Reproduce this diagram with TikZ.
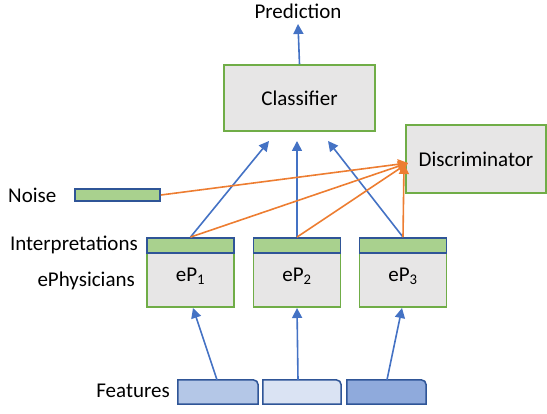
\documentclass[tikz,border=0pt]{standalone}
\usepackage{fontspec}
\setmainfont{Carlito}
\usetikzlibrary{arrows.meta}
\definecolor{oblue}{HTML}{4472C4}
\definecolor{oorange}{HTML}{ED7D31}
\definecolor{ogreen}{HTML}{70AD47}
\definecolor{ogray}{HTML}{E7E6E6}
\definecolor{obar}{HTML}{A9D18E}
\definecolor{odark}{HTML}{2F5597}
\definecolor{fa}{HTML}{B4C7E7}
\definecolor{fb}{HTML}{DAE3F3}
\definecolor{fc}{HTML}{8FAADC}
\tikzset{
  txt/.style={font=\fontsize{21}{25}\selectfont, inner sep=0pt},
  graybox/.style={draw=ogreen, fill=ogray, line width=1.5pt, inner sep=0pt, font=\fontsize{21}{25}\selectfont},
  barbox/.style={draw=odark, fill=obar, line width=1.8pt, inner sep=0pt},
  featbox/.style={inner sep=0pt, minimum width=80pt, minimum height=24pt},
  barrow/.style={draw=oblue, line width=1.6pt, -{Triangle[width=10pt,length=10pt]}},
  oarrow/.style={draw=oorange, line width=1.6pt, -{Triangle[width=10pt,length=10pt]}},
}
\begin{document}
\begin{tikzpicture}[x=1pt,y=-1pt]
\useasboundingbox (0,0) rectangle (547,414);
% labels
\node[txt] (pred) at (298,11) {Prediction};
\node[txt, anchor=west] (noiselbl) at (8,195) {Noise};
\node[txt, anchor=east] (interp) at (138,245) {Interpretations};
\node[txt, anchor=east] (ephys) at (135,281) {ePhysicians};
\node[txt, anchor=east] (featlbl) at (170,391) {Features};
% boxes
\node[graybox, minimum width=151pt, minimum height=66pt] (clf) at (299.5,98) {Classifier};
\node[graybox, minimum width=140pt, minimum height=68pt] (disc) at (476,159) {Discriminator};
\node[barbox, minimum width=85pt, minimum height=12pt] (noise) at (117.5,195) {};
% ePhysicians
\foreach \i/\x in {1/190.5, 2/297, 3/403} {
  \node[graybox, minimum width=87pt, minimum height=69pt] (ep\i) at (\x,272.5) {};
  \node[barbox, minimum width=87pt, minimum height=15pt] (b\i) at (\x,245.5) {};
  \node[txt] (lab\i) at (\x,276) {eP\textsubscript{\i}};
}
% features
\node[featbox] (f1) at (218,392) {};
\node[featbox, minimum width=78pt] (f2) at (302,392) {};
\node[featbox, minimum width=79pt] (f3) at (386.5,392) {};
\foreach \n/\c in {f1/fa, f2/fb, f3/fc} {
  \draw[draw=odark, fill=\c, line width=1.5pt] (\n.south west) -- (\n.north west) [rounded corners=5pt] -- (\n.north east) [sharp corners] -- (\n.south east) -- cycle;
}
% coordinates
\coordinate (c1) at (269,141);
\coordinate (c2) at (297,141);
\coordinate (c3) at (328,141);
\coordinate (d) at (408,163);
\coordinate (d3) at (404,164);
\coordinate (e1) at (193,308);
\coordinate (e2) at (297,308);
\coordinate (e3) at (402,308);
% blue arrows
\draw[barrow] (clf.north) -- (298,24);
\draw[barrow] (b1.north) -- (c1);
\draw[barrow] (b2.north) -- (c2);
\draw[barrow] (b3.north) -- (c3);
\draw[barrow] ([xshift=-1pt]f1.north) -- (e1);
\draw[barrow] ([xshift=-4pt]f2.north) -- (e2);
\draw[barrow] ([xshift=0.5pt]f3.north) -- (e3);
% orange arrows
\draw[oarrow] (noise.east) -- (d);
\draw[oarrow] (b1.north) -- (d);
\draw[oarrow] (b2.north) -- (d);
\draw[oarrow] (b3.north) -- (d3);
\end{tikzpicture}
\end{document}
